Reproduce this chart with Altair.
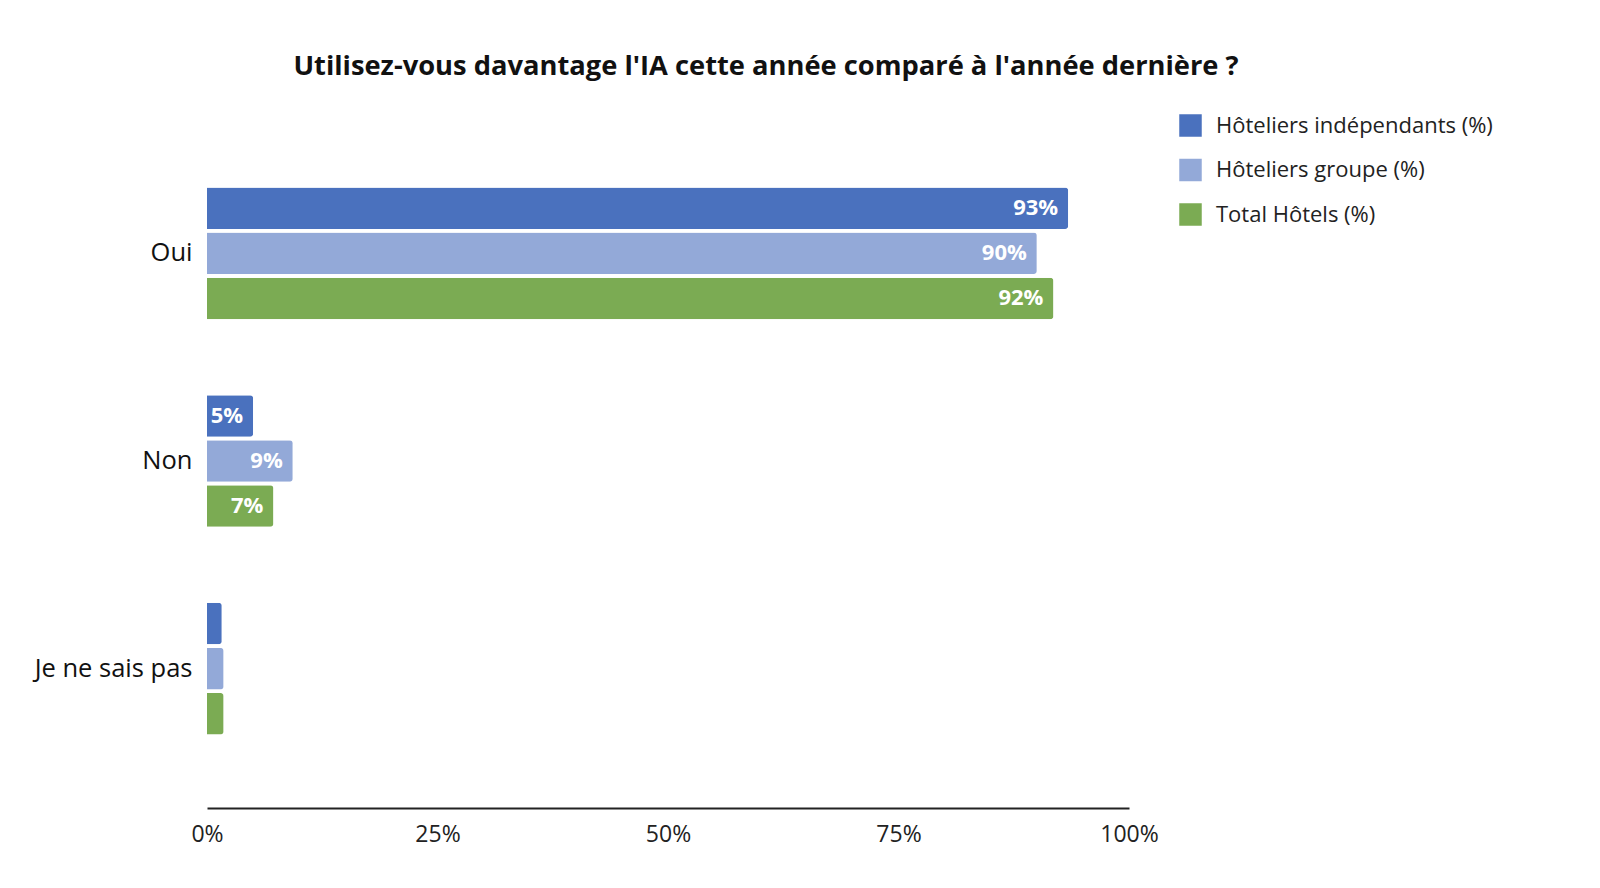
import altair as alt
import pandas as pd

categories = ["Oui", "Non", "Je ne sais pas"]
series = ["Hôteliers indépendants (%)", "Hôteliers groupe (%)", "Total Hôtels (%)"]
independants = [93.4, 5.0, 1.6]
groupe = [90.0, 9.3, 1.8]
total = [91.8, 7.2, 1.8]
labels_ind = ["93%", "5%", ""]
labels_grp = ["90%", "9%", ""]
labels_tot = ["92%", "7%", ""]
colors = ["#4A71BE", "#93A9D8", "#7BAB53"]
x_ticks = [0, 25, 50, 75, 100]

rows = []
for vals, labs, s in [(independants, labels_ind, series[0]),
                      (groupe, labels_grp, series[1]),
                      (total, labels_tot, series[2])]:
    for c, v, l in zip(categories, vals, labs):
        rows.append({"cat": c, "series": s, "value": v / 100.0, "label": l})
df = pd.DataFrame(rows)

FONT = "Open Sans"

y_enc = alt.Y("cat:N", sort=categories, title=None,
              scale=alt.Scale(paddingInner=0.366, paddingOuter=0.354),
              axis=alt.Axis(domain=False, ticks=False, labelFontSize=25.5,
                            labelColor="#111", labelFont=FONT, labelPadding=15))
yoff = alt.YOffset("series:N", sort=series,
                   scale=alt.Scale(paddingInner=0.08, paddingOuter=0))
x_enc = alt.X("value:Q", title=None,
              scale=alt.Scale(domain=[0, 1], nice=False),
              axis=alt.Axis(values=[t / 100 for t in x_ticks], format=".0%",
                            grid=False, ticks=False, domainColor="#222",
                            domainWidth=2, labelFontSize=23, labelColor="#222",
                            labelFont=FONT, labelPadding=15, labelFlush=False))

bars = alt.Chart(df).mark_bar(cornerRadiusEnd=3).encode(
    y=y_enc, yOffset=yoff, x=x_enc,
    color=alt.Color("series:N", sort=series,
                    scale=alt.Scale(domain=series, range=colors),
                    legend=alt.Legend(title=None, orient="none", legendX=972,
                                      legendY=0, symbolType="square",
                                      symbolSize=506, symbolStrokeWidth=0,
                                      symbolOpacity=1,
                                      labelFontSize=22, labelFont=FONT,
                                      labelColor="#222", rowPadding=21.5,
                                      labelOffset=14, labelLimit=400)),
)

text = alt.Chart(df).mark_text(align="right", baseline="middle", dx=-10,
                               color="white", fontWeight="bold", fontSize=22,
                               font=FONT).encode(
    y=alt.Y("cat:N", sort=categories), yOffset=alt.YOffset("series:N", sort=series),
    x="value:Q", text="label:N")

chart = alt.layer(bars, text).properties(
    width=922, height=694,
    autosize=alt.AutoSizeParams(type="none"),
    padding={"left": 199, "top": 106, "right": 460, "bottom": 72},
    background="white",
    title=alt.TitleParams("Utilisez-vous davantage l'IA cette année comparé à l'année dernière ?",
                          anchor="middle", dx=98, offset=34, fontSize=27.3,
                          font=FONT, fontWeight="bold", color="#111"),
).configure_view(stroke=None)

chart.save("out.html", embed_options={"renderer": "svg", "actions": False})
